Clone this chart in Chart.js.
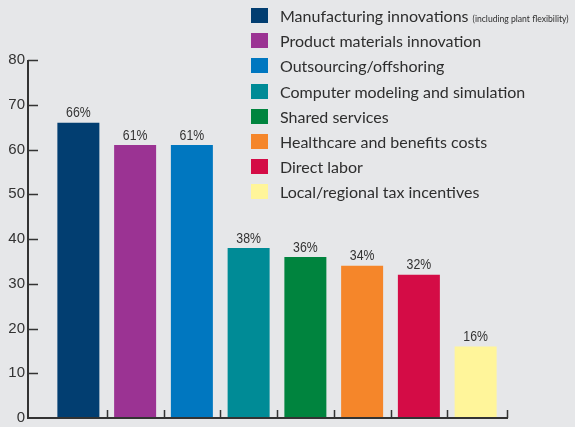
<!DOCTYPE html>
<html>
<head>
<meta charset="utf-8">
<script src="https://cdn.jsdelivr.net/npm/chart.js@4/dist/chart.umd.min.js"></script>
<style>
  html, body { margin: 0; padding: 0; background: #e6e7e9; }
  #wrap { position: relative; width: 575px; height: 427px; overflow: hidden; background: #e6e7e9; }
  #chart { position: absolute; left: 0; top: 0; }
  #legend { position: absolute; left: 251px; top: 8px; margin: 0; padding: 0; list-style: none;
    font-family: Lato, "Open Sans", sans-serif; font-size: 16px; color: #2e2e2e; }
  #legend li { height: 25.2px; display: flex; align-items: flex-start; white-space: nowrap; }
  #legend .sw { width: 17px; height: 15px; margin-right: 12px; flex: none; }
  #legend .txt { line-height: 15px; }
  #legend small { font-size: 8.6px; }
</style>
</head>
<body>
<div id="wrap">
  <canvas id="chart" width="575" height="427"></canvas>
  <ul id="legend"></ul>
</div>
<script>
  // Datos del grafico
  const categories = [
    "Manufacturing innovations",
    "Product materials innovation",
    "Outsourcing/offshoring",
    "Computer modeling and simulation",
    "Shared services",
    "Healthcare and benefits costs",
    "Direct labor",
    "Local/regional tax incentives"
  ];
  const categoryNotes = ["(including plant flexibility)", "", "", "", "", "", "", ""];
  const values = [66, 61, 61, 38, 36, 34, 32, 16];
  const colors = ["#023e71", "#9b3393", "#0077c0", "#008b96", "#00843e", "#f5862a", "#d40c46", "#fff59a"];
  const yTicks = [0, 10, 20, 30, 40, 50, 60, 70, 80];

  // Leyenda HTML
  const legend = document.getElementById("legend");
  categories.forEach((c, i) => {
    const li = document.createElement("li");
    const sw = document.createElement("span");
    sw.className = "sw";
    sw.style.background = colors[i];
    const txt = document.createElement("span");
    txt.className = "txt";
    txt.textContent = c + " ";
    if (categoryNotes[i]) {
      const sm = document.createElement("small");
      sm.textContent = categoryNotes[i];
      txt.appendChild(sm);
    }
    li.appendChild(sw);
    li.appendChild(txt);
    legend.appendChild(li);
  });

  const labelFont = '"Liberation Sans", Arial, sans-serif';

  // Ejes dibujados a mano: linea vertical desplazada y ticks hacia dentro
  const axesPlugin = {
    id: "axes",
    afterDraw(chart) {
      const ctx = chart.ctx;
      const y = chart.scales.y;
      const x = chart.scales.x;
      const axisX = 28;
      const base = y.getPixelForValue(0);
      ctx.save();
      ctx.strokeStyle = "#333";
      ctx.lineWidth = 2;
      ctx.beginPath();
      ctx.moveTo(axisX, y.getPixelForValue(80));
      ctx.lineTo(axisX, base);
      ctx.lineTo(508, base);
      ctx.stroke();
      ctx.lineWidth = 1.5;
      ctx.beginPath();
      yTicks.forEach((t) => {
        if (t === 0) return;
        const py = Math.round(y.getPixelForValue(t)) + 0.5;
        ctx.moveTo(axisX, py);
        ctx.lineTo(axisX + 10, py);
      });
      const half = (x.getPixelForValue(1) - x.getPixelForValue(0)) / 2;
      for (let i = 1; i < categories.length; i++) {
        const px = Math.round(x.getPixelForValue(i) - half) + 0.5;
        ctx.moveTo(px, base);
        ctx.lineTo(px, base - 8);
      }
      ctx.moveTo(507.5, base);
      ctx.lineTo(507.5, base - 8);
      ctx.stroke();

      // Etiquetas de valor (algo comprimidas en horizontal)
      const meta = chart.getDatasetMeta(0);
      ctx.fillStyle = "#333";
      ctx.font = "15px " + labelFont;
      ctx.textAlign = "center";
      ctx.textBaseline = "bottom";
      meta.data.forEach((bar, i) => {
        ctx.save();
        ctx.translate(bar.x, bar.y - 2);
        ctx.scale(0.82, 1);
        ctx.fillText(values[i] + "%", 0, 0);
        ctx.restore();
      });
      ctx.restore();
    }
  };

  new Chart(document.getElementById("chart"), {
    type: "bar",
    data: {
      labels: categories,
      datasets: [{
        data: values,
        backgroundColor: colors,
        borderWidth: 0,
        barPercentage: 0.74,
        categoryPercentage: 1
      }]
    },
    options: {
      responsive: false,
      animation: false,
      devicePixelRatio: 1,
      layout: { padding: { left: 0, right: 71, top: 60, bottom: 9 } },
      plugins: { legend: { display: false }, tooltip: { enabled: false } },
      scales: {
        x: { display: false },
        y: {
          min: 0,
          max: 80,
          afterFit: (s) => { s.width = 50; s.paddingTop = 0; s.paddingBottom = 0; },
          afterBuildTicks: (s) => { s.ticks = yTicks.map((v) => ({ value: v })); },
          grid: { display: false, drawTicks: false },
          border: { display: false },
          ticks: { color: "#333", padding: 25, font: { size: 15, family: labelFont } }
        }
      }
    },
    plugins: [axesPlugin]
  });
</script>
</body>
</html>
